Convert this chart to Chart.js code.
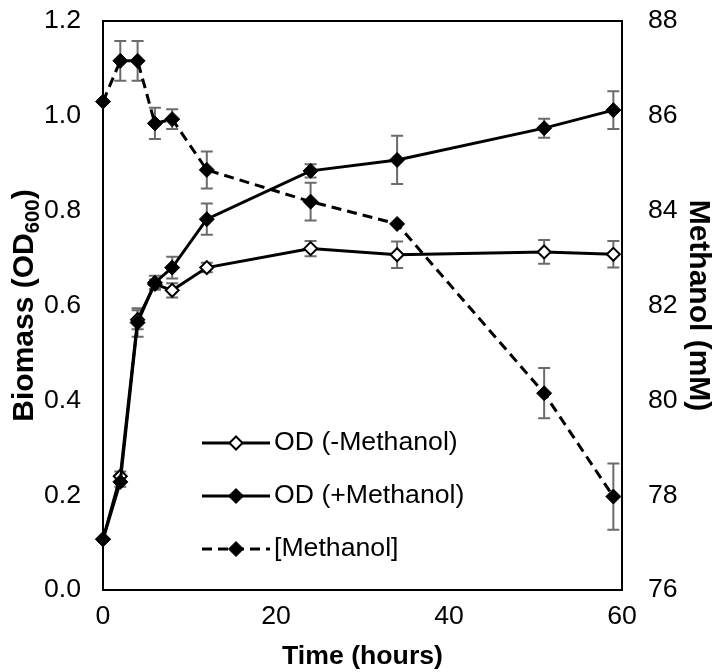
<!DOCTYPE html>
<html><head><meta charset="utf-8">
<script src="https://cdn.jsdelivr.net/npm/chart.js@4/dist/chart.umd.min.js"></script>
<style>html,body{margin:0;padding:0;background:#fff}#wrap{width:713px;height:672px;position:relative}</style>
</head><body><div id="wrap"><canvas id="c"></canvas></div>
<script>
const hours = [0, 2, 4, 6, 8, 12, 24, 34, 51, 59];
const odMinus = [0.107, 0.240, 0.570, 0.645, 0.632, 0.680, 0.720, 0.707, 0.713, 0.708];
const odMinusErr = [0, 0.010, 0.020, 0.010, 0.015, 0.010, 0.016, 0.028, 0.025, 0.028];
const odPlus = [0.107, 0.228, 0.564, 0.648, 0.680, 0.782, 0.884, 0.907, 0.974, 1.012];
const odPlusErr = [0, 0.010, 0.030, 0.015, 0.023, 0.033, 0.014, 0.051, 0.020, 0.040];
const methanol = [86.30, 87.16, 87.16, 85.84, 85.93, 84.86, 84.19, 83.72, 80.15, 77.97];
const methanolErr = [0, 0.42, 0.42, 0.33, 0.21, 0.39, 0.40, 0, 0.53, 0.70];
const seriesNames = ['OD (-Methanol)', 'OD (+Methanol)', '[Methanol]'];
const xTitle = 'Time (hours)';
const yTitleMain = 'Biomass (OD', yTitleSub = '600', yTitleEnd = ')';
const y2Title = 'Methanol (mM)';

const FONT = "'Liberation Sans', Arial, sans-serif";
const TICK = 26.67, TITLE = 26.67, VTITLE = 30;
const CA = {left: 103, right: 622, top: 21, bottom: 590};
const W = 713, H = 672;

function pts(ys) { return hours.map((h, i) => ({x: h, y: ys[i]})); }
function noPad(s) { s.paddingTop = 0; s.paddingBottom = 0; s.paddingLeft = 0; s.paddingRight = 0; }

const frame = {
  id: 'frame',
  beforeDatasetsDraw(chart) {
    const {ctx, chartArea: a} = chart;
    ctx.save();
    ctx.strokeStyle = '#000'; ctx.lineWidth = 2;
    ctx.strokeRect(a.left, a.top, a.right - a.left, a.bottom - a.top);
    const xs = chart.scales.x;
    ctx.strokeStyle = '#6b6b6b'; ctx.lineWidth = 2;
    chart.data.datasets.forEach(ds => {
      const ys = chart.scales[ds.yAxisID];
      ds.errors.forEach((e, i) => {
        if (!e) return;
        const p = ds.data[i];
        const px = xs.getPixelForValue(p.x);
        const t = ys.getPixelForValue(p.y + e), b = ys.getPixelForValue(p.y - e);
        ctx.beginPath();
        ctx.moveTo(px, t); ctx.lineTo(px, b);
        ctx.moveTo(px - 6, t); ctx.lineTo(px + 6, t);
        ctx.moveTo(px - 6, b); ctx.lineTo(px + 6, b);
        ctx.stroke();
      });
    });
    ctx.restore();
  },
  afterDraw(chart) {
    const {ctx, chartArea: a} = chart;
    ctx.save();
    ctx.translate(25, (a.top + a.bottom) / 2);
    ctx.rotate(-Math.PI / 2);
    ctx.fillStyle = '#000';
    ctx.textBaseline = 'middle';
    const big = 'bold ' + VTITLE + 'px ' + FONT, small = 'bold ' + (VTITLE * 0.68).toFixed(1) + 'px ' + FONT;
    ctx.font = big; const w1 = ctx.measureText(yTitleMain).width, w3 = ctx.measureText(yTitleEnd).width;
    ctx.font = small; const w2 = ctx.measureText(yTitleSub).width;
    let x = -(w1 + w2 + w3) / 2;
    ctx.textAlign = 'left';
    ctx.font = big; ctx.fillText(yTitleMain, x, 0); x += w1;
    ctx.font = small; ctx.fillText(yTitleSub, x, 8); x += w2;
    ctx.font = big; ctx.fillText(yTitleEnd, x, 0);
    ctx.restore();
    ctx.save();
    const rows = [443, 496, 549];
    const x0 = 202, x1 = 270, xm = 236;
    chart.data.datasets.forEach((ds, i) => {
      const y = rows[i];
      ctx.strokeStyle = '#000'; ctx.lineWidth = 3;
      ctx.setLineDash(ds.borderDash || []);
      ctx.beginPath(); ctx.moveTo(x0, y); ctx.lineTo(x1, y); ctx.stroke();
      ctx.setLineDash([]);
      ctx.fillStyle = ds.pointBackgroundColor; ctx.strokeStyle = '#000'; ctx.lineWidth = ds.pointBorderWidth;
      ctx.beginPath();
      ctx.moveTo(xm - ds.pointRadius, y); ctx.lineTo(xm, y - ds.pointRadius);
      ctx.lineTo(xm + ds.pointRadius, y); ctx.lineTo(xm, y + ds.pointRadius); ctx.closePath();
      ctx.fill(); ctx.stroke();
      ctx.fillStyle = '#000'; ctx.font = TICK + 'px ' + FONT;
      ctx.textBaseline = 'middle'; ctx.textAlign = 'left';
      ctx.fillText(seriesNames[i], x1 + 4, y);
    });
    ctx.restore();
  }
};

new Chart(document.getElementById('c'), {
  type: 'line',
  data: {
    datasets: [
      {label: seriesNames[0], data: pts(odMinus), errors: odMinusErr, yAxisID: 'y',
       borderColor: '#000', borderWidth: 3, pointStyle: 'rectRot', pointRadius: 6.5, pointBorderWidth: 2,
       pointBackgroundColor: '#fff', pointBorderColor: '#000', order: 1, clip: false},
      {label: seriesNames[1], data: pts(odPlus), errors: odPlusErr, yAxisID: 'y',
       borderColor: '#000', borderWidth: 3, pointStyle: 'rectRot', pointRadius: 7.5, pointBorderWidth: 1,
       pointBackgroundColor: '#000', pointBorderColor: '#000', order: 0, clip: false},
      {label: seriesNames[2], data: pts(methanol), errors: methanolErr, yAxisID: 'y2',
       borderColor: '#000', borderWidth: 3, borderDash: [10, 6], pointStyle: 'rectRot', pointRadius: 7.5, pointBorderWidth: 1,
       pointBackgroundColor: '#000', pointBorderColor: '#000', order: 2, clip: false}
    ]
  },
  options: {
    responsive: true, maintainAspectRatio: false, animation: false, events: [],
    layout: {padding: {left: 0, right: 0, top: CA.top, bottom: 0}},
    plugins: {legend: {display: false}, tooltip: {enabled: false}},
    scales: {
      x: {type: 'linear', min: 0, max: 60,
          grid: {display: false, drawTicks: false}, border: {display: false},
          ticks: {stepSize: 20, color: '#000', font: {family: FONT, size: TICK}, padding: 11, maxRotation: 0},
          title: {display: true, text: xTitle, color: '#000', font: {family: FONT, size: TITLE, weight: 'bold', lineHeight: 1.1}, padding: {top: 0, bottom: 1}},
          afterFit(s) { s.height = H - CA.bottom; noPad(s); }},
      y: {position: 'left', min: 0, max: 1.2,
          grid: {display: false, drawTicks: false}, border: {display: false},
          ticks: {stepSize: 0.2, color: '#000', font: {family: FONT, size: TICK}, padding: 22,
                  callback: v => Number(v).toFixed(1)},
          afterFit(s) { s.width = CA.left; noPad(s); }},
      y2: {position: 'right', min: 76, max: 88,
          grid: {display: false, drawTicks: false}, border: {display: false},
          ticks: {stepSize: 2, color: '#000', font: {family: FONT, size: TICK}, padding: 26},
          title: {display: true, text: y2Title, color: '#000', font: {family: FONT, size: VTITLE, weight: 'bold', lineHeight: 1}, padding: {top: 0, bottom: 0}},
          afterFit(s) { s.width = W - CA.right; noPad(s); }}
    }
  },
  plugins: [frame]
});
</script></body></html>
